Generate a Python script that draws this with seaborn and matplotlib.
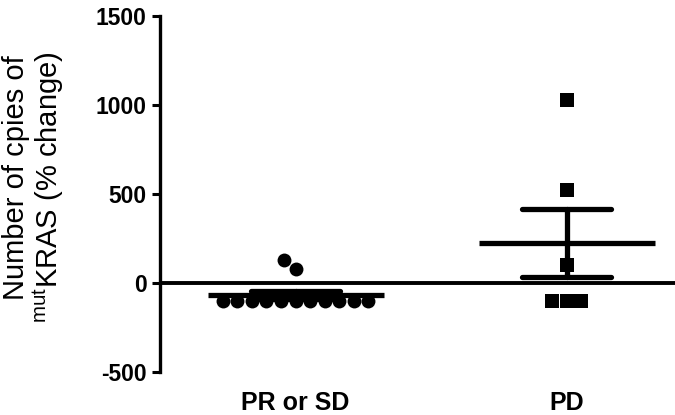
import matplotlib
matplotlib.use("Agg")
import matplotlib.pyplot as plt
import seaborn as sns
import pandas as pd

# ---- data ----
groups = ["PR or SD", "PD"]
pr_sd_values = [130, 80, -100, -100, -100, -100, -100, -100, -100, -100, -100, -100, -100]
pd_values = [1030, 520, 100, -100, -100, -100]
y_ticks = [-500, 0, 500, 1000, 1500]
ylabel_lines = ["Number of cpies of", "$^{\\mathregular{mut}}$KRAS (% change)"]

df = pd.DataFrame({
    "group": [groups[0]] * len(pr_sd_values) + [groups[1]] * len(pd_values),
    "value": pr_sd_values + pd_values,
})

sns.set_style("ticks")
plt.rcParams["font.family"] = ["Liberation Sans", "DejaVu Sans"]
plt.rcParams["mathtext.fontset"] = "custom"
plt.rcParams["mathtext.rm"] = "Liberation Sans"
plt.rcParams["text.color"] = "black"
plt.rcParams["axes.labelcolor"] = "black"
plt.rcParams["xtick.color"] = "black"
plt.rcParams["ytick.color"] = "black"

fig = plt.figure(figsize=(6.75, 4.15), dpi=100)
ax = fig.add_axes([0.237, 0.1036, 0.763, 0.8578])

# zero line
ax.axhline(0, color="black", linewidth=2.8, zorder=1)

# mean +/- SEM
sns.pointplot(data=df, x="group", y="value", order=groups, errorbar="se",
              capsize=0.33, color="black", markers="_", markersize=127,
              markeredgewidth=3.8, linestyle="none",
              err_kws={"linewidth": 3.8, "solid_capstyle": "round"},
              ax=ax, zorder=2)

# individual points
sns.swarmplot(data=df[df.group == groups[0]], x="group", y="value", order=groups,
              marker="o", color="black", size=10, linewidth=0, ax=ax, zorder=3)
sns.swarmplot(data=df[df.group == groups[1]], x="group", y="value", order=groups,
              marker="s", color="black", size=10, linewidth=0, ax=ax, zorder=3)

ax.set_xlim(-0.5, 1.4)
ax.set_ylim(-500, 1500)
ax.set_yticks(y_ticks)
ax.set_yticklabels([str(v) for v in y_ticks], fontsize=16.5, fontweight="bold",
                   color="black")
ax.set_xticks([0, 1])
ax.set_xticklabels(groups, fontsize=18, fontweight="bold", color="black")
ax.tick_params(axis="x", length=0, pad=14)
ax.tick_params(axis="y", length=6, width=2.2, pad=3.5, color="black")
ax.set_xlabel("")
ax.set_ylabel("")

for s in ["top", "right", "bottom"]:
    ax.spines[s].set_visible(False)
ax.spines["left"].set_linewidth(2.4)
ax.spines["left"].set_color("black")

# two-line y-axis title (baseline-anchored)
fig.text(0.0356, 0.571, ylabel_lines[0], rotation=90, rotation_mode="anchor",
         ha="center", va="baseline", fontsize=21, color="black")
fig.text(0.0859, 0.549, ylabel_lines[1], rotation=90, rotation_mode="anchor",
         ha="center", va="baseline", fontsize=21, color="black")

fig.savefig("out.png", dpi=100)
